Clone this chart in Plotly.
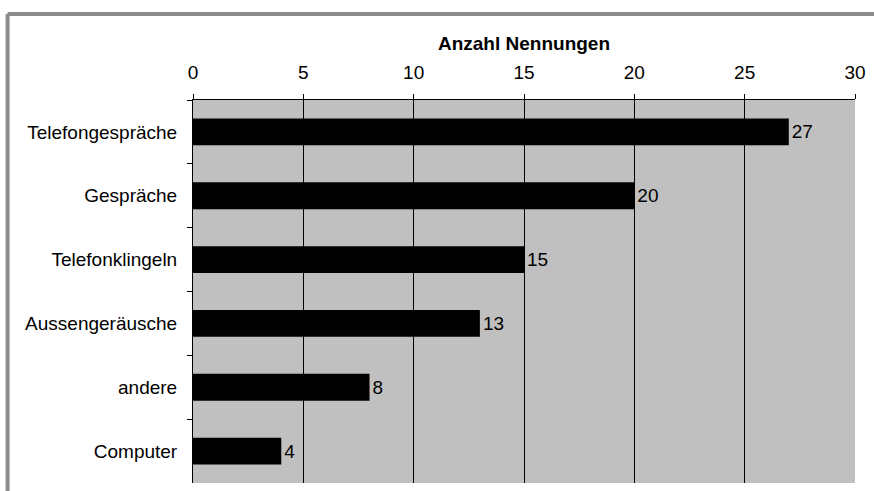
import plotly.graph_objects as go

categories = ["Telefongespräche", "Gespräche", "Telefonklingeln", "Aussengeräusche", "andere", "Computer"]
values = [27, 20, 15, 13, 8, 4]
x_ticks = [0, 5, 10, 15, 20, 25, 30]

font = "Arial, Liberation Sans, sans-serif"

fig = go.Figure(go.Bar(
    y=categories, x=values, orientation="h",
    marker=dict(color="black", line=dict(width=0)),
    width=0.42,
    text=[str(v) for v in values], textposition="outside",
    textfont=dict(family=font, size=19, color="black"),
    cliponaxis=False,
))

fig.update_layout(
    width=874, height=491,
    margin=dict(l=193, r=17, t=100, b=8),
    paper_bgcolor="white", plot_bgcolor="#c0c0c0",
    showlegend=False,
    font=dict(family=font, size=19, color="black"),
    bargap=0.58,
    xaxis=dict(
        side="top", range=[0, 30], tickvals=x_ticks,
        showgrid=True, gridcolor="black", gridwidth=1,
        showline=True, linecolor="black", linewidth=1,
        ticks="outside", ticklen=5, tickcolor="black",
        zeroline=False,
        tickfont=dict(family=font, size=19),
        ticklabelstandoff=7,
        title=dict(text="<b>Anzahl Nennungen</b>", font=dict(family=font, size=19), standoff=6),
    ),
    yaxis=dict(
        autorange="reversed", categoryorder="array", categoryarray=categories,
        showline=True, linecolor="black", linewidth=1,
        ticks="outside", ticklen=5, tickcolor="black", tickson="boundaries",
        tickfont=dict(family=font, size=19),
        ticklabelstandoff=11,
        showgrid=False,
    ),
    shapes=[
        dict(type="line", xref="paper", yref="paper",
             x0=-0.2801, y0=1.2245, x1=1.6, y1=1.2245,
             line=dict(color="#8c8c8c", width=4)),
        dict(type="line", xref="paper", yref="paper",
             x0=-0.2801, y0=1.2245, x1=-0.2801, y1=-0.5,
             line=dict(color="#8c8c8c", width=4)),
    ],
)

fig.write_html("out.html")
